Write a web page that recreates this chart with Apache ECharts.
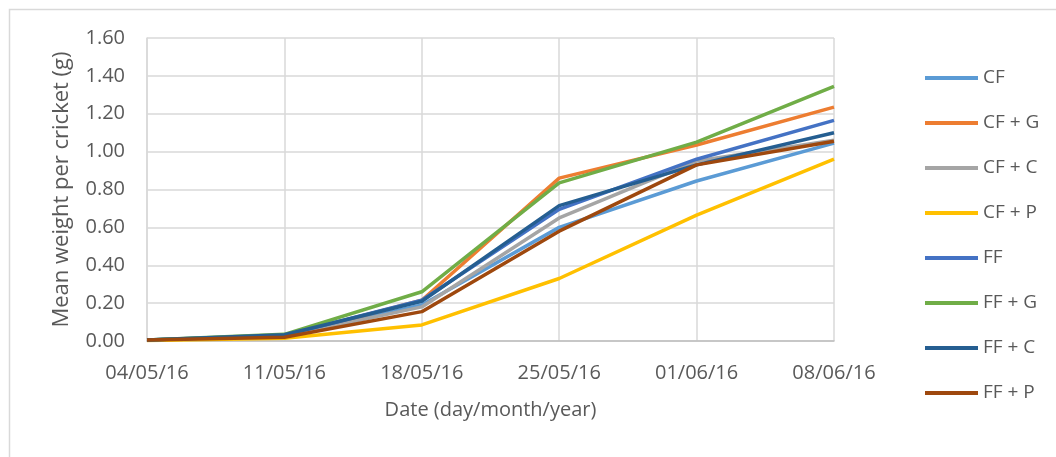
<!DOCTYPE html>
<html>
<head>
<meta charset="utf-8">
<script src="https://cdn.jsdelivr.net/npm/echarts@6/dist/echarts.min.js"></script>
<style>
  html, body { margin: 0; padding: 0; background: #fff; }
  #chart { width: 1056px; height: 457px; }
</style>
</head>
<body>
<div id="chart"></div>
<script>
const dates = ['04/05/16', '11/05/16', '18/05/16', '25/05/16', '01/06/16', '08/06/16']

const seriesNames = ['CF', 'CF + G', 'CF + C', 'CF + P', 'FF', 'FF + G', 'FF + C', 'FF + P']
const seriesColors = ['#5B9BD5', '#ED7D31', '#A5A5A5', '#FFC000', '#4472C4', '#70AD47', '#255E91', '#9E480E']

const cf = [0.005, 0.025, 0.19, 0.60, 0.845, 1.045]
const cfG = [0.005, 0.025, 0.215, 0.86, 1.035, 1.235]
const cfC = [0.005, 0.025, 0.18, 0.65, 0.95, 1.06]
const cfP = [0.003, 0.015, 0.085, 0.33, 0.665, 0.96]
const ff = [0.005, 0.03, 0.215, 0.695, 0.96, 1.165]
const ffG = [0.005, 0.035, 0.26, 0.835, 1.05, 1.345]
const ffC = [0.005, 0.033, 0.21, 0.715, 0.93, 1.10]
const ffP = [0.005, 0.02, 0.155, 0.58, 0.93, 1.055]

const allValues = [cf, cfG, cfC, cfP, ff, ffG, ffC, ffP]

const textColor = '#595959'
const gridColor = '#d9d9d9'
const fontFamily = '"Open Sans", sans-serif'

const chart = echarts.init(document.getElementById('chart'))

chart.setOption({
  backgroundColor: '#fff',
  animation: false,
  textStyle: {fontFamily: fontFamily, color: textColor},
  graphic: [{
    type: 'rect',
    left: 7,
    top: 7,
    shape: {width: 1100, height: 500},
    style: {fill: 'none', stroke: '#d9d9d9', lineWidth: 1.5},
    silent: true,
    z: -1
  }],
  legend: {
    orient: 'vertical',
    left: 920,
    top: 61,
    itemWidth: 53,
    itemHeight: 4,
    itemGap: 21,
    textStyle: {fontFamily: fontFamily, fontSize: 19, lineHeight: 24, color: textColor},
    data: seriesNames.map(n => ({name: n, icon: 'path://M0,0 L53,0 L53,4 L0,4 Z'}))
  },
  grid: {left: 147, right: 222, top: 38, bottom: 116},
  xAxis: {
    type: 'category',
    data: dates,
    boundaryGap: false,
    name: 'Date (day/month/year)',
    nameLocation: 'middle',
    nameGap: 59,
    nameTextStyle: {fontFamily: fontFamily, fontSize: 20, color: textColor},
    axisLine: {lineStyle: {color: '#bfbfbf', width: 1.5}},
    axisTick: {show: false},
    axisLabel: {fontFamily: fontFamily, fontSize: 20, color: textColor, margin: 22},
    splitLine: {show: true, lineStyle: {color: gridColor, width: 1.5}}
  },
  yAxis: {
    type: 'value',
    min: 0,
    max: 1.6,
    interval: 0.2,
    name: 'Mean weight per cricket (g)',
    nameLocation: 'middle',
    nameGap: 74,
    nameTextStyle: {fontFamily: fontFamily, fontSize: 22, color: textColor},
    axisLine: {show: true, lineStyle: {color: gridColor, width: 1.5}},
    axisTick: {show: false},
    axisLabel: {
      fontFamily: fontFamily,
      fontSize: 20,
      color: textColor,
      margin: 22,
      formatter: v => v.toFixed(2)
    },
    splitLine: {lineStyle: {color: gridColor, width: 1.5}}
  },
  series: seriesNames.map((name, i) => ({
    name: name,
    type: 'line',
    data: allValues[i],
    symbol: 'none',
    lineStyle: {width: 3.5, color: seriesColors[i]},
    itemStyle: {color: seriesColors[i]}
  }))
})
</script>
</body>
</html>
